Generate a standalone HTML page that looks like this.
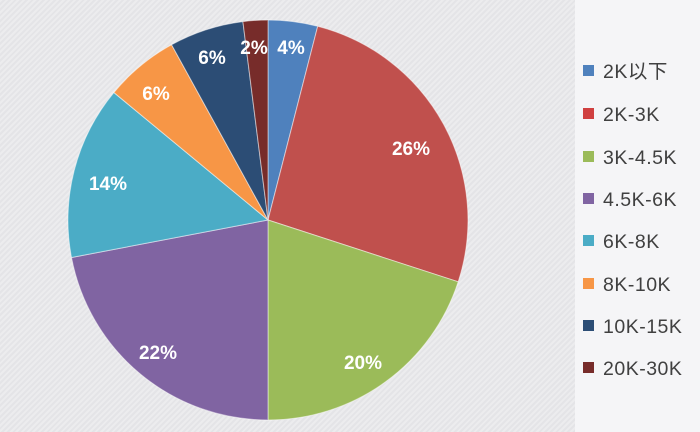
<!DOCTYPE html>
<html><head><meta charset="utf-8"><style>
html,body{margin:0;padding:0}
body{width:700px;height:432px;overflow:hidden;background:repeating-linear-gradient(135deg,#ececee 0 2px,#e4e4e7 2px 4px);font-family:"Liberation Sans","Noto Sans CJK SC",sans-serif}
</style></head><body>
<svg width="700" height="432" style="position:absolute;left:0;top:0">
<rect x="575" y="0" width="125" height="432" fill="#f5f5f7"/>
<g stroke="#fff" stroke-width="1" stroke-opacity="0.5">
<path d="M268,220 L268,20 A200,200 0 0 1 317.7,26.3Z" fill="#4f81bd"/>
<path d="M268,220 L317.7,26.3 A200,200 0 0 1 458.2,281.8Z" fill="#c0504d"/>
<path d="M268,220 L458.2,281.8 A200,200 0 0 1 268,420Z" fill="#9bbb59"/>
<path d="M268,220 L268,420 A200,200 0 0 1 71.5,257.5Z" fill="#8064a2"/>
<path d="M268,220 L71.5,257.5 A200,200 0 0 1 113.9,92.5Z" fill="#4bacc6"/>
<path d="M268,220 L113.9,92.5 A200,200 0 0 1 171.6,44.7Z" fill="#f79646"/>
<path d="M268,220 L171.6,44.7 A200,200 0 0 1 242.9,21.6Z" fill="#2c4d75"/>
<path d="M268,220 L242.9,21.6 A200,200 0 0 1 268,20Z" fill="#772c2a"/>
</g>
<g fill="#fff" font-weight="bold" font-size="19" text-anchor="middle">
<text x="291" y="54">4%</text>
<text x="411" y="155">26%</text>
<text x="363" y="369">20%</text>
<text x="158" y="359">22%</text>
<text x="108" y="190">14%</text>
<text x="156" y="100">6%</text>
<text x="212" y="64">6%</text>
<text x="254" y="54">2%</text>
</g>
<g font-size="19.5" fill="#404040" letter-spacing="0.5">
<rect x="583" y="65" width="11" height="11" fill="#4f81bd"/><text x="603" y="78">2K以下</text>
<rect x="583" y="108" width="11" height="11" fill="#d04040"/><text x="603" y="121">2K-3K</text>
<rect x="583" y="151" width="11" height="11" fill="#9bbb59"/><text x="603" y="164">3K-4.5K</text>
<rect x="583" y="193" width="11" height="11" fill="#8064a2"/><text x="603" y="206">4.5K-6K</text>
<rect x="583" y="235" width="11" height="11" fill="#4bacc6"/><text x="603" y="248">6K-8K</text>
<rect x="583" y="278" width="11" height="11" fill="#f79646"/><text x="603" y="291">8K-10K</text>
<rect x="583" y="320" width="11" height="11" fill="#2c4d75"/><text x="603" y="333">10K-15K</text>
<rect x="583" y="362" width="11" height="11" fill="#772c2a"/><text x="603" y="375">20K-30K</text>
</g>
</svg>
</body></html>
